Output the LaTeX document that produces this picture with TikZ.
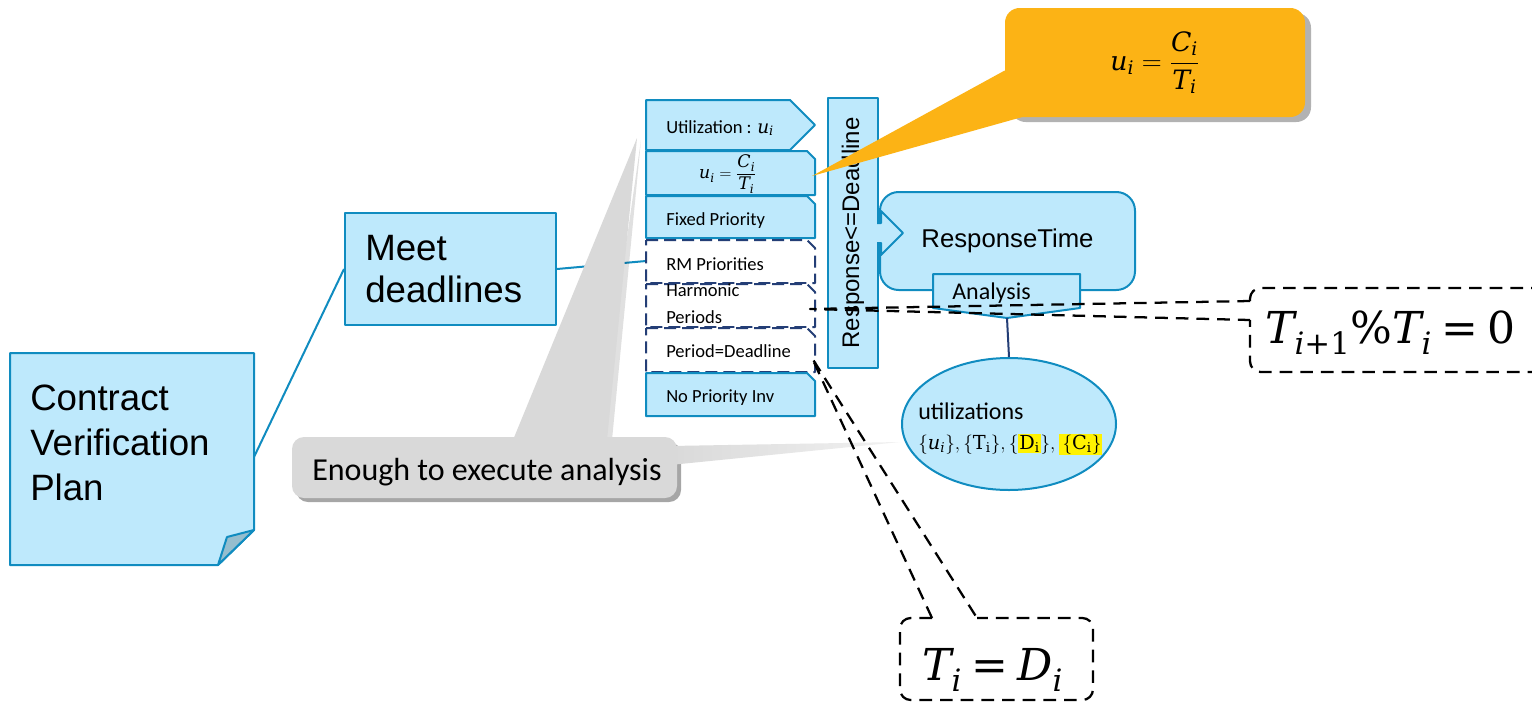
\documentclass[tikz,border=0pt]{standalone}
\usepackage[no-math]{fontspec}
\usepackage{amsmath}
\setmainfont{Liberation Sans}
\newfontfamily\calfont{Carlito}
\newfontfamily\cmath{DejaVu Serif}
\usetikzlibrary{shapes.geometric}
\definecolor{lblue}{RGB}{190,233,252}
\definecolor{bblue}{RGB}{16,140,192}
\definecolor{navy}{RGB}{36,62,118}
\definecolor{foldc}{RGB}{150,190,206}
\definecolor{orangec}{RGB}{252,179,21}
\definecolor{grayc}{RGB}{217,217,217}
\newcommand\fs[2]{\fontsize{#1}{#2}\selectfont}
\newcommand\hlbox[1]{{\setlength{\fboxsep}{0.6pt}\colorbox{yellow}{#1}}}
% formula letters: italic and upright serif glyphs usable inside math
\newcommand\ci[1]{\text{\cmath\itshape #1}}
\newcommand\cu[1]{\text{\cmath #1}}
\begin{document}
\begin{tikzpicture}[x=0.75pt,y=-0.75pt,line join=round,
  box/.style={draw=bblue,fill=lblue,line width=1.5pt},
  conn/.style={draw=bblue,line width=1.5pt},
  dimbox/.style={draw=navy,fill=white,line width=1.5pt,dash pattern=on 9pt off 4.5pt},
  callline/.style={draw=black,line width=1.7pt,dash pattern=on 9.5pt off 6pt},
  lbl/.style={inner sep=0pt,anchor=base west},
  small/.style={lbl,font=\calfont\fs{13.9pt}{15.5pt}},
]
\fill[white] (0,0) rectangle (1532,704);
\useasboundingbox (0,0) rectangle (1532,704);

% sticky note with folded corner
\path[box] (10,353) -- (254,353) -- (254,530) -- (218,565) -- (10,565) -- cycle;
\path[draw=bblue,fill=foldc,line width=1.5pt] (218,565) -- (227,537) -- (254,530) -- cycle;
% multi-line labels are placed by the baseline of their last line
\node[lbl,align=left,font=\fs{27.5pt}{33.75pt}] (cvp) at (30,500) {Contract\\Verification\\Plan};
\coordinate (cvpE) at (254,457);

% goal box
\node[box,minimum width=158.25pt,minimum height=84pt,inner sep=0pt] (meet) at (450.5,269) {};
\node[lbl,align=left,font=\fs{27.5pt}{31.5pt}] (meettxt) at (365,302) {Meet\\deadlines};
\draw[conn] (cvpE) -- (meet.west);
\coordinate (rmW) at (646,261);
\draw[conn] (meet.east) -- (rmW);

% stack of conditions
\path[box] (646,100) -- (790,100) -- (815,125) -- (790,150) -- (646,150) -- cycle;
\path[box] (646,151) -- (807,151) -- (815,159) -- (815,195) -- (646,195) -- cycle;
\path[box] (646,196) -- (807,196) -- (815,204) -- (815,238) -- (646,238) -- cycle;
\path[dimbox] (646,240) -- (807,240) -- (815,248) -- (815,283) -- (646,283) -- cycle;
\path[dimbox] (646,284) -- (807,284) -- (815,292) -- (815,327) -- (646,327) -- cycle;
\path[dimbox] (646,328) -- (807,328) -- (815,336) -- (815,372) -- (646,372) -- cycle;
\path[box] (646,373) -- (807,373) -- (815,381) -- (815,416) -- (646,416) -- cycle;
\node[small] (tUtil) at (666,133) {Utilization : $\ci{u}_{\ci{i}}$};
\node[inner sep=0pt,font=\fs{13pt}{15pt}] (tUform) at (728,174) {$\ci{u}_{\ci{i}}=\dfrac{\ci{C}_{\ci{i}}}{\ci{T}_{\ci{i}}}$};
\node[small] (tFixed) at (666,225) {Fixed Priority};
\node[small] (tRM) at (666,270) {RM Priorities};
\node[small,align=left,font=\calfont\fs{13.9pt}{20pt}] (tHarm) at (666,323) {Harmonic\\Periods};
\node[small] (tPer) at (666,357) {Period=Deadline};
\node[small] (tNoPI) at (666,402) {No Priority Inv};

% vertical condition bar
\node[box,rotate=90,minimum width=202.5pt,minimum height=37.5pt,inner sep=0pt,
      font=\fs{18pt}{20pt}] (resp) at (853,233) {Response<=Deadline};

% response time analysis block
\node[box,rounded corners=14pt,minimum width=191.25pt,minimum height=73.5pt,inner sep=0pt,
      font=\fs{19.3pt}{22pt}] (rt) at (1007.5,241) {ResponseTime};
\path[box] (877,223) -- (881,223) -- (881,211) -- (903,233) -- (881,255) -- (881,243) -- (877,243);
\path[box] (933,274) -- (1080,274) -- (1080,308) -- (1007,318) -- (933,308) -- cycle;
\node[lbl,font=\calfont\fs{18pt}{20pt}] (anatxt) at (952,299) {Analysis};
\coordinate (anaTip) at (1007,318);

\node[box,ellipse,minimum width=160.5pt,minimum height=99pt,inner sep=0pt] (util) at (1009,424) {};
\draw[draw=navy,line width=1.5pt] (anaTip) -- (util.north);
\node[lbl,align=left,font=\calfont\fs{18pt}{22.5pt}] (utiltxt) at (918,449)
  {utilizations\\{\fs{14.5pt}{22.5pt}$\{\ci{u}_{\ci{i}}\},\{\cu{T}_{\cu{i}}\},\{\hlbox{$\cu{D}_{\cu{i}}$}\},\hlbox{$\,\{\cu{C}_{\cu{i}}\}$}$}};

% orange formula callout
\coordinate (uTip) at (812,176);
\fill[black,opacity=.3,rounded corners=11pt] (1011,13) rectangle (1311,122);
\node[fill=orangec,rounded corners=11pt,minimum width=225pt,minimum height=81.75pt,inner sep=0pt,
      font=\fs{20pt}{24pt}] (uform) at (1155,62.5) {$\ci{u}_{\ci{i}}=\dfrac{\ci{C}_{\ci{i}}}{\ci{T}_{\ci{i}}}$};
\fill[orangec] (uTip) -- ([yshift=-6pt]uform.west) -- ([xshift=16pt,yshift=1pt]uform.south west) -- cycle;

% gray remark callout
\coordinate (gTip1) at (637,138);
\coordinate (gTip2) at (900,442);
\fill[black,opacity=.35,rounded corners=9pt] (296,442) rectangle (681,502);
\fill[black,opacity=.12] (641,140) -- (612,440) -- (598,440) -- cycle;
\fill[grayc] (gTip1) -- (513,440) -- (607,440) -- cycle;
\shade[left color=grayc,right color=grayc!35] (gTip2) -- (670,446) -- (670,465) -- cycle;
\node[fill=grayc,rounded corners=9pt,minimum width=288.75pt,minimum height=45.75pt,inner sep=0pt] (enough) at (484.5,467.5) {};
\node[lbl,font=\calfont\fs{24pt}{28pt}] (enoughtxt) at (312,480) {Enough to execute analysis};

% dashed formula callouts
\coordinate (hTip) at (810,309);
\draw[callline,rounded corners=8pt] (1250,301) |- (1550,288) |- (1250,372) -- (1250,320);
\draw[callline] (1250,301) -- (hTip) -- (1250,320);
\node[lbl,font=\fs{33pt}{40pt}] (harmtxt) at (1265,343)
  {$\ci{T}_{\ci{i}\cu{+1}}\cu{\%}\ci{T}_{\ci{i}}\mathrel{\cu{=}}\cu{0}$};

\coordinate (pTip) at (812,358);
\draw[callline,rounded corners=8pt] (932,618) -| (900,700) -| (1093,618) -- (977,618);
\draw[callline] (932,618) -- (pTip) -- (977,618);
\node[lbl,font=\fs{33pt}{40pt}] (pdtxt) at (922,680) {$\ci{T}_{\ci{i}}\mathrel{\cu{=}}\ci{D}_{\ci{i}}$};
\end{tikzpicture}
\end{document}
